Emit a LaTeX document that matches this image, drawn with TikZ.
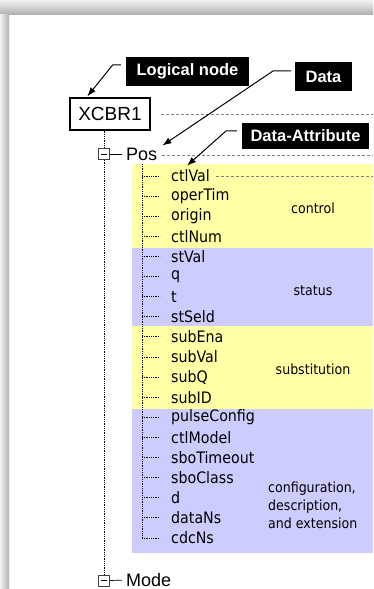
\documentclass[tikz,border=0pt]{standalone}
\usepackage{fontspec}
\setmainfont{Liberation Sans}
\newfontfamily\tah{DejaVu Sans Condensed}
\usetikzlibrary{arrows.meta,calc}
\definecolor{bandY}{HTML}{FFFFA6}
\definecolor{bandB}{HTML}{CCCCFF}
\tikzset{
  tag/.style={fill=black, text=white, inner sep=0pt, font=\bfseries\fontsize{16.5}{16.5}\selectfont},
  pointer/.style={line width=1pt, -{Latex[length=9pt,width=6.5pt]}},
  guide/.style={gray, line width=0.6pt, dash pattern=on 3pt off 2pt},
  treeline/.style={line width=0.8pt, densely dotted},
  expander/.style={draw=black!75, line width=0.6pt, minimum size=11pt, inner sep=0pt},
  objname/.style={anchor=west, inner sep=0pt, font=\fontsize{18}{18}\selectfont},
  item/.style={anchor=west, inner sep=0pt, font=\tah\fontsize{15.8}{16}\selectfont},
  grouplabel/.style={inner sep=0pt, font=\tah\fontsize{14}{18}\selectfont},
}
\begin{document}
\begin{tikzpicture}[x=1pt,y=-1pt]
\useasboundingbox (0,0) rectangle (373,589);
\fill[white] (0,0) rectangle (373,589);
\shade[top color=gray!10, bottom color=gray!60] (0,0) rectangle (373,14);
\shade[left color=gray!10, right color=gray!60] (0,14) rectangle (9,589);

% bands
\fill[bandY] (132,164) rectangle (373,248);
\fill[bandB] (132,248) rectangle (373,326);
\fill[bandY] (132,326) rectangle (373,409);
\fill[bandB] (132,409) rectangle (373,553);

% logical node
\node[draw, line width=1.3pt, minimum width=80pt, minimum height=32pt, inner sep=0pt,
      font=\fontsize{19}{19}\selectfont] (ln) at (110,114) {XCBR1};
\draw[guide] ($(ln.east)+(10,0)$) -- (373,114);

% Pos
\node[expander] (pb) at (104,154) {};
\draw[line width=0.7pt] ($(pb.center)+(-3,0)$) -- ($(pb.center)+(3,0)$);
\node[objname] (pos) at (126,154) {Pos};
\draw[line width=0.7pt, shorten >=4pt] (pb.east) -- (pos.west);
\draw[guide] ($(pos.east)+(5,1)$) -- (373,155);
\draw[treeline] (pb.north |- ln.south) -- (pb.north);

% Mode
\node[expander] (mb) at (104,580.5) {};
\draw[line width=0.7pt] ($(mb.center)+(-3,0)$) -- ($(mb.center)+(3,0)$);
\node[objname] (mode) at (126,580) {Mode};
\draw[line width=0.7pt, shorten >=4pt] (mb.east) -- (mode.west);
\draw[treeline] (pb.south) -- (mb.north);

% attributes
\coordinate (vt) at (142,164);
\foreach \t [count=\i from 0] in {ctlVal,operTim,origin,ctlNum,stVal,q,t,stSeld,subEna,subVal,subQ,subID,pulseConfig,ctlModel,sboTimeout,sboClass,d,dataNs,cdcNs}{
  \coordinate (s\i) at (142,{176+20.11*\i});
  \node[item] (i\i) at (171,{176+20.11*\i}) {\t};
  \draw[treeline] (s\i) -- ++(18,0);
}
\draw[treeline] (vt) -- (s18);
\draw[guide] ($(i0.east)+(6,0)$) -- (373,176);

% group labels
\node[grouplabel] at (313,208) {control};
\node[grouplabel] at (313,291) {status};
\node[grouplabel] at (313,369) {substitution};
\node[grouplabel, anchor=west, align=left] at (268,505) {configuration,\\description,\\and extension};

% tags
\node[tag, minimum width=123pt, minimum height=29pt] (tln) at (187.5,71.5) {Logical node};
\node[tag, minimum width=57pt, minimum height=29pt] (tdata) at (323.5,76.5) {Data};
\node[tag, minimum width=127pt, minimum height=26pt] (tda) at (305.5,136) {Data-Attribute};

\coordinate (p1) at ($(tln.north west)+(-5,8)$);
\draw[pointer] (p1) -- ++(-8,0) -- ($(ln.north west)+(18,-1)$);
\coordinate (p2) at ($(tdata.north west)+(-4,9)$);
\draw[pointer] (p2) -- (273,71) -- ($(pos.north east)+(5,-2)$);
\coordinate (p3) at ($(tda.north west)+(-5,8)$);
\draw[pointer] (p3) -- (226,131) -- ($(i0.north west)+(16,-4)$);
\end{tikzpicture}
\end{document}
